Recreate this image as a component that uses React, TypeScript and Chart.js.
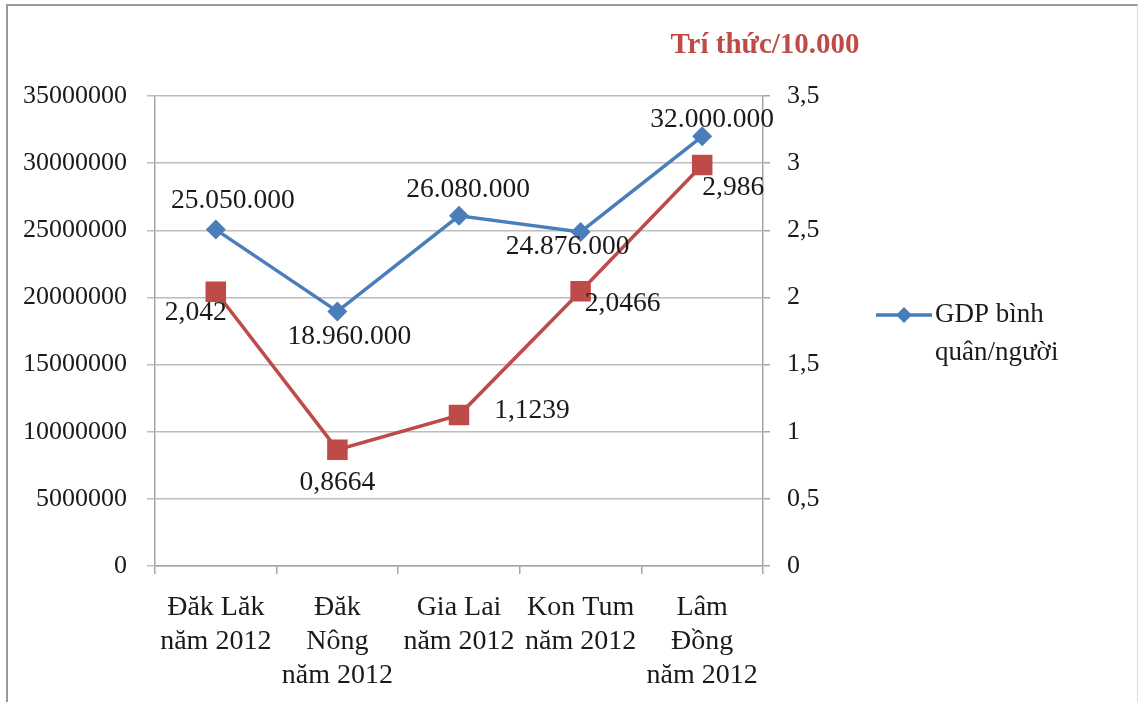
import React, { useEffect, useRef } from "react";
import { Chart, registerables } from "chart.js";

Chart.register(...registerables);

const categories: string[][] = [
  ["Đăk Lăk", "năm 2012"],
  ["Đăk", "Nông", "năm 2012"],
  ["Gia Lai", "năm 2012"],
  ["Kon Tum", "năm 2012"],
  ["Lâm", "Đồng", "năm 2012"],
];

const gdpValues: number[] = [25050000, 18960000, 26080000, 24876000, 32000000];
const triThucValues: number[] = [2.042, 0.8664, 1.1239, 2.0466, 2.986];

const gdpLabel = "GDP bình quân/người";
const gdpLegendLines = ["GDP bình", "quân/người"];
const triThucLabel = "Trí thức/10.000";

// label offsets relative to each point (style only)
const gdpLabelOffsets: [number, number][] = [
  [17, -29],
  [12, 25],
  [9, -26],
  [-13, 15],
  [10, -17],
];
const triLabelOffsets: [number, number][] = [
  [-20, 21],
  [0, 33],
  [73, -4],
  [42, 13],
  [31, 23],
];

const FONT = "'Liberation Serif', 'Times New Roman', serif";
const BLUE = "#4a7ebb";
const RED = "#be4b48";

const fmtGdp = (v: number) => String(v).replace(/\B(?=(\d{3})+(?!\d))/g, ".");
const fmtTri = (v: number) => String(v).replace(".", ",");

const overlayPlugin = {
  id: "overlay",
  afterDatasetsDraw(chart: any) {
    const ctx = chart.ctx;
    const area = chart.chartArea;
    ctx.save();
    // data labels
    ctx.font = `27.5px ${FONT}`;
    ctx.fillStyle = "#1a1a1a";
    ctx.textAlign = "center";
    ctx.textBaseline = "middle";
    const sets = [
      { idx: 0, offs: gdpLabelOffsets, fmt: fmtGdp, vals: gdpValues },
      { idx: 1, offs: triLabelOffsets, fmt: fmtTri, vals: triThucValues },
    ];
    sets.forEach((s) => {
      const meta = chart.getDatasetMeta(s.idx);
      meta.data.forEach((el: any, i: number) => {
        const [dx, dy] = s.offs[i];
        ctx.fillText(s.fmt(s.vals[i]), el.x + dx, el.y + dy);
      });
    });
    // title over right axis
    ctx.font = `bold 29px ${FONT}`;
    ctx.fillStyle = RED;
    ctx.fillText(triThucLabel, area.right + 2, area.top - 50);
    // legend
    const lx = area.right + 113;
    const ly = area.top + 219;
    ctx.strokeStyle = BLUE;
    ctx.lineWidth = 3.5;
    ctx.beginPath();
    ctx.moveTo(lx, ly);
    ctx.lineTo(lx + 56, ly);
    ctx.stroke();
    ctx.fillStyle = BLUE;
    ctx.beginPath();
    const cx = lx + 28;
    const r = 8;
    ctx.moveTo(cx, ly - r);
    ctx.lineTo(cx + r, ly);
    ctx.lineTo(cx, ly + r);
    ctx.lineTo(cx - r, ly);
    ctx.closePath();
    ctx.fill();
    ctx.font = `27px ${FONT}`;
    ctx.fillStyle = "#1a1a1a";
    ctx.textAlign = "left";
    ctx.fillText(gdpLegendLines[0], lx + 59, ly);
    ctx.fillText(gdpLegendLines[1], lx + 59, ly + 38);
    ctx.restore();
  },
};

export default function App() {
  const ref = useRef<HTMLCanvasElement | null>(null);

  useEffect(() => {
    if (!ref.current) return;
    const chart = new Chart(ref.current, {
      type: "line",
      data: {
        labels: categories as any,
        datasets: [
          {
            label: gdpLabel,
            data: gdpValues,
            borderColor: BLUE,
            backgroundColor: BLUE,
            borderWidth: 3.5,
            pointStyle: "rectRot",
            pointRadius: 10,
            pointHoverRadius: 10,
            pointBorderWidth: 0,
            yAxisID: "y",
            tension: 0,
          },
          {
            label: triThucLabel,
            data: triThucValues,
            borderColor: RED,
            backgroundColor: RED,
            borderWidth: 3.5,
            pointStyle: "rect",
            pointRadius: 14.5,
            pointHoverRadius: 14.5,
            pointBorderWidth: 0,
            yAxisID: "y1",
            tension: 0,
          },
        ],
      },
      options: {
        animation: false,
        responsive: false,
        maintainAspectRatio: false,
        layout: { padding: { top: 96, left: 0, right: 0, bottom: 0 } },
        plugins: {
          legend: { display: false },
          title: { display: false },
          tooltip: { enabled: false },
        },
        scales: {
          x: {
            type: "category",
            offset: true,
            grid: {
              offset: true,
              drawOnChartArea: false,
              drawTicks: true,
              tickLength: 8,
              color: "#a6a6a6",
              lineWidth: 1.5,
            },
            border: { display: true, color: "#a6a6a6", width: 1.5 },
            ticks: {
              color: "#1a1a1a",
              font: { family: FONT, size: 28, lineHeight: 1.23 },
              padding: 16,
              maxRotation: 0,
              autoSkip: false,
            },
            afterFit: (scale: any) => {
              scale.height = 136;
            },
          },
          y: {
            position: "left",
            min: 0,
            max: 35000000,
            ticks: {
              stepSize: 5000000,
              color: "#1a1a1a",
              font: { family: FONT, size: 26 },
              padding: 20,
              callback: (v: any) => String(v),
            },
            grid: {
              color: "#bdbdbd",
              lineWidth: 1.5,
              tickLength: 8,
              drawTicks: true,
            },
            border: { display: true, color: "#a6a6a6", width: 1.5 },
            afterFit: (scale: any) => {
              scale.width = 155;
            },
          },
          y1: {
            position: "right",
            min: 0,
            max: 3.5,
            ticks: {
              stepSize: 0.5,
              color: "#1a1a1a",
              font: { family: FONT, size: 26 },
              padding: 17,
              callback: (v: any) => String(v).replace(".", ","),
            },
            grid: {
              drawOnChartArea: false,
              color: "#a6a6a6",
              lineWidth: 1.5,
              tickLength: 7,
              drawTicks: true,
            },
            border: { display: true, color: "#a6a6a6", width: 1.5 },
            afterFit: (scale: any) => {
              scale.width = 376;
            },
          },
        },
      },
      plugins: [overlayPlugin],
    });
    return () => chart.destroy();
  }, []);

  return (
    <div
      style={{
        position: "fixed",
        left: 0,
        top: 0,
        width: 1139,
        height: 702,
        background: "#ffffff",
        overflow: "hidden",
      }}
    >
      <div
        style={{
          position: "absolute",
          left: 6,
          top: 4,
          width: 1129,
          height: 700,
          borderTop: "2px solid #9a9a9a",
          borderLeft: "2px solid #9a9a9a",
          borderRight: "1px solid #dcdcdc",
        }}
      />
      <canvas
        ref={ref}
        width={1139}
        height={702}
        style={{ position: "absolute", left: 0, top: 0, width: 1139, height: 702 }}
      />
    </div>
  );
}
